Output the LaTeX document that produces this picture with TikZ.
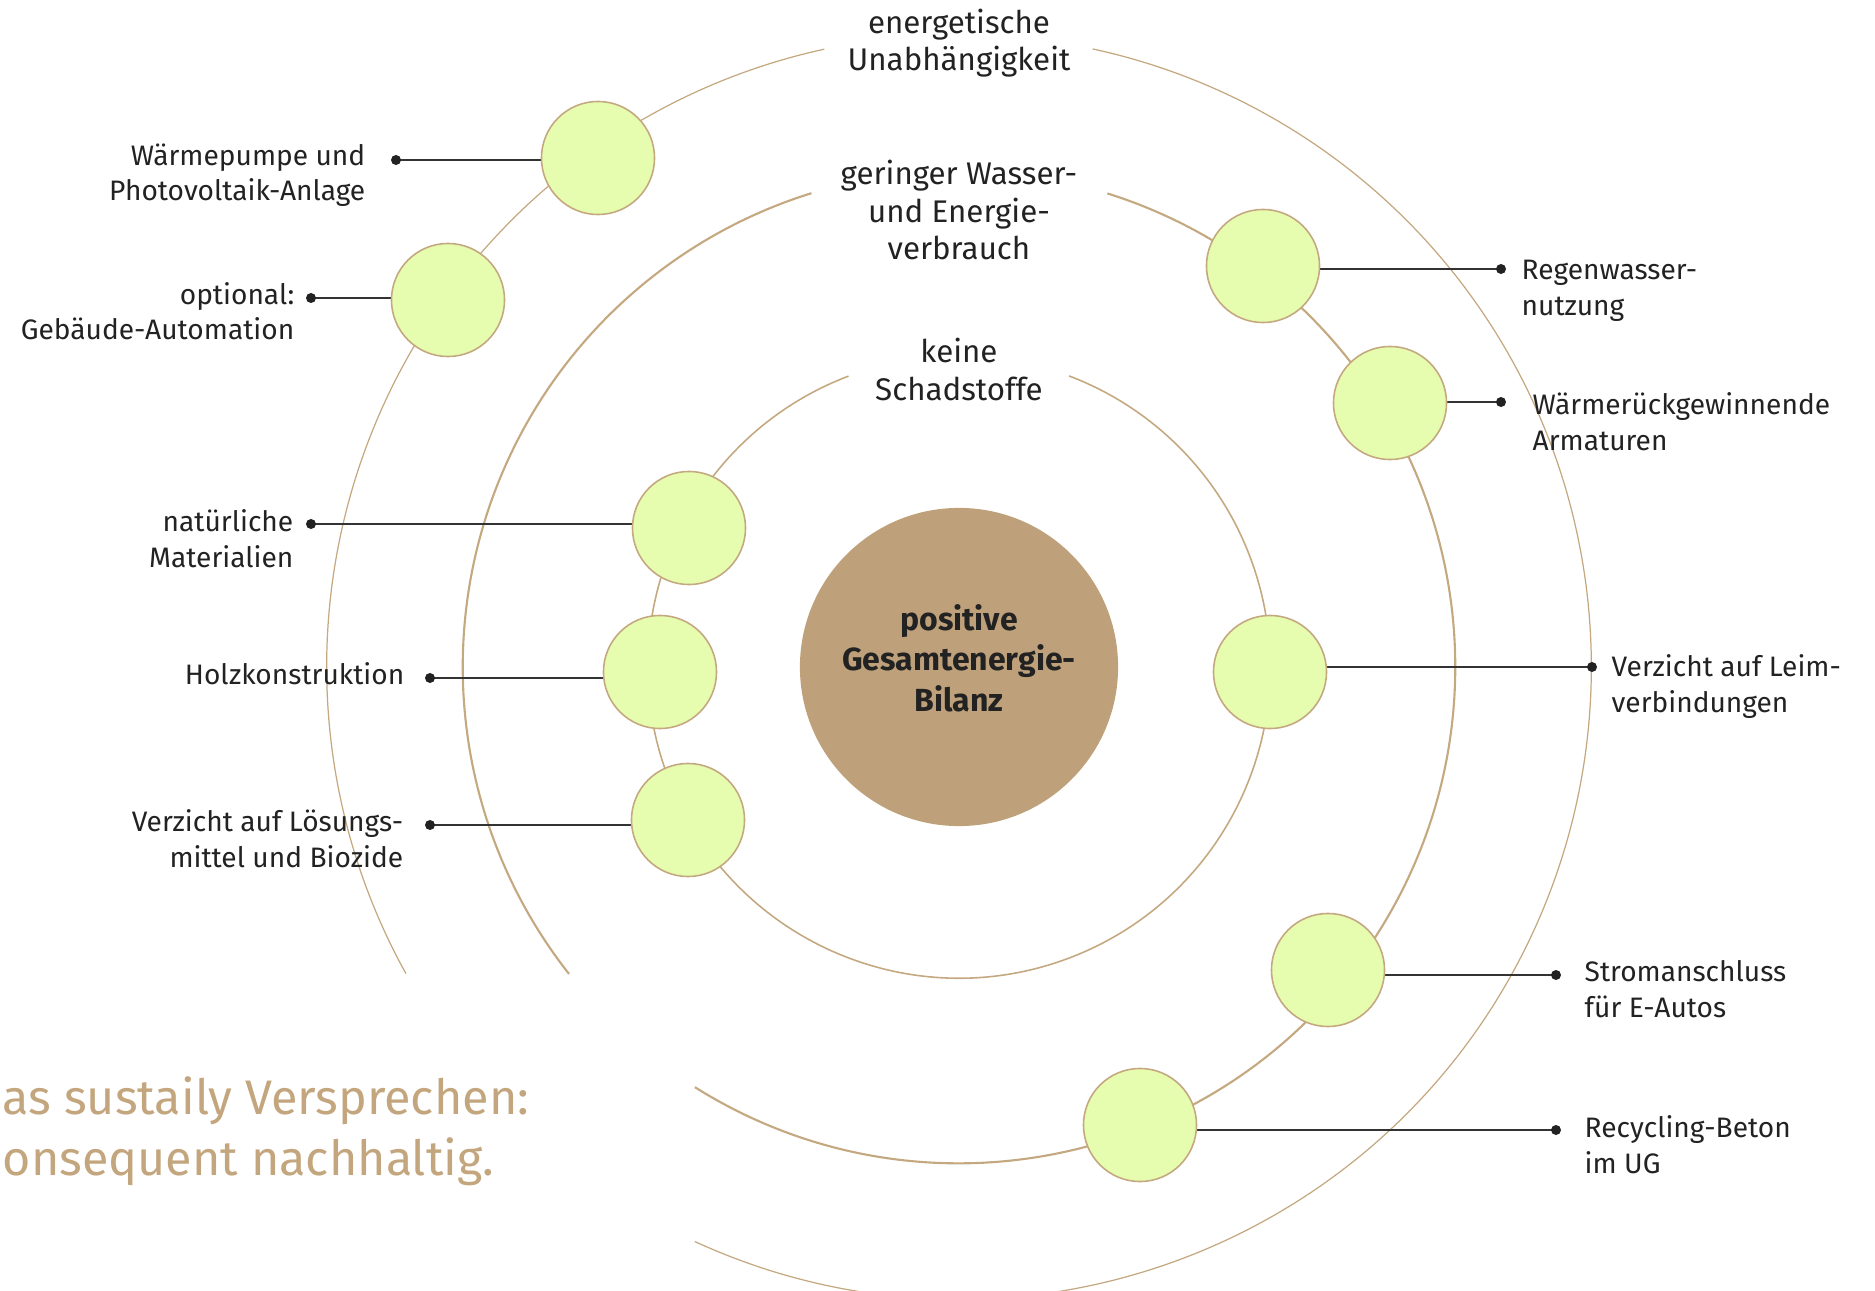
\documentclass[tikz,border=0pt]{standalone}
\usepackage{fontspec}
\setmainfont{Fira Sans}
\usetikzlibrary{backgrounds}
\definecolor{ringbrown}{RGB}{196,168,128}
\definecolor{corebrown}{RGB}{190,161,122}
\definecolor{bubblegreen}{RGB}{230,252,174}
\definecolor{inktext}{RGB}{34,34,34}
\definecolor{leadergray}{RGB}{51,51,51}
\definecolor{claimbrown}{RGB}{195,166,125}
\tikzset{
	bubble/.style={circle, draw=ringbrown, line width=0.45pt, fill=bubblegreen, minimum size=1.13cm, inner sep=0pt},
	core/.style={circle, fill=corebrown, minimum size=3.18cm, inner sep=0pt},
	coretext/.style={text=inktext, align=center, anchor=base, inner sep=0pt, font=\bfseries\fontsize{9.1}{11.4}\selectfont},
	ringtitle/.style={text=inktext, align=center, anchor=base, inner sep=0pt, font=\fontsize{8.9}{10.8}\selectfont},
	leftlabel/.style={text=inktext, align=right, anchor=base east, inner sep=0pt, font=\fontsize{8}{10}\selectfont},
	rightlabel/.style={text=inktext, align=left, anchor=base west, inner sep=0pt, font=\fontsize{8}{10}\selectfont},
	leaderdot/.style={circle, fill=inktext, minimum size=0.1cm, inner sep=0pt},
	leader/.style={draw=leadergray, line width=0.5pt},
	ring/.style={draw=ringbrown},
	claim/.style={text=claimbrown, align=left, anchor=base west, inner sep=0pt, font=\fontsize{13.8}{17.1}\selectfont}
}

\begin{document}
\begin{tikzpicture}[x=0.01cm, y=-0.01cm]
	\useasboundingbox (0,0) rectangle (1875,1291);

	\node[core] (bilanz) at (959,667) {};
	\node[coretext] (bilanztext) at (959,711) {positive\\Gesamtenergie-\\Bilanz};

	\foreach \name/\x/\y in {waerme/598/158, automation/448/300, material/689/528, holz/660/672, loesung/688/820, regen/1263/266, armatur/1390/403, leim/1270/672, strom/1328/970, beton/1140/1125}
		\node[bubble] (\name) at (\x,\y) {};

	\foreach \name/\x/\y in {waerme/396/160, automation/311/298, material/311/524, holz/430/678, loesung/430/825, regen/1501/269, armatur/1501/402, leim/1592/667, strom/1556/975, beton/1556/1130}
		\node[leaderdot] (d\name) at (\x,\y) {};

	\begin{pgfonlayer}{background}
		\foreach \r/\a/\b/\w in {3.11/110.8/429.3/0.45, 4.96/107.3/218.2/0.6, 4.96/237.85/432.6/0.6, 6.32/102.3/209/0.35, 6.32/245.3/437.8/0.35}
			\draw[ring, line width=\w pt] (bilanz.center) ++(\a:\r cm) arc[start angle=\a, end angle=\b, radius=\r cm];
		\foreach \name in {waerme, automation, material, holz, loesung, regen, armatur, leim, strom, beton}
			\draw[leader] (d\name.center) -- (d\name.center -| \name.center);
	\end{pgfonlayer}

	\node[ringtitle] (unabhaengig) at (959,71) {energetische\\Unabhängigkeit};
	\node[ringtitle] (verbrauch) at (959,260) {geringer Wasser-\\und Energie-\\verbrauch};
	\node[ringtitle] (schadstoffe) at (959,400) {keine\\Schadstoffe};

	\node[leftlabel] (lwaerme) at (366,201) {Wärmepumpe und\\Photovoltaik-Anlage};
	\node[leftlabel] (lautomation) at (295,340) {optional:\\Gebäude-Automation};
	\node[leftlabel] (lmaterial) at (294,567) {natürliche\\Materialien};
	\node[leftlabel] (lholz) at (405,684) {Holzkonstruktion};
	\node[leftlabel] (lloesung) at (404,867) {Verzicht auf Lösungs-\\mittel und Biozide};
	\node[rightlabel] (lregen) at (1521,315) {Regenwasser-\\nutzung};
	\node[rightlabel] (larmatur) at (1532,450) {Wärmerückgewinnende\\Armaturen};
	\node[rightlabel] (lleim) at (1611,712) {Verzicht auf Leim-\\verbindungen};
	\node[rightlabel] (lstrom) at (1584,1017) {Stromanschluss\\für E-Autos};
	\node[rightlabel] (lbeton) at (1584,1173) {Recycling-Beton\\im UG};

	\node[claim] (versprechen) at (2,1175) {as sustaily Versprechen:\\onsequent nachhaltig.};
\end{tikzpicture}
\end{document}
